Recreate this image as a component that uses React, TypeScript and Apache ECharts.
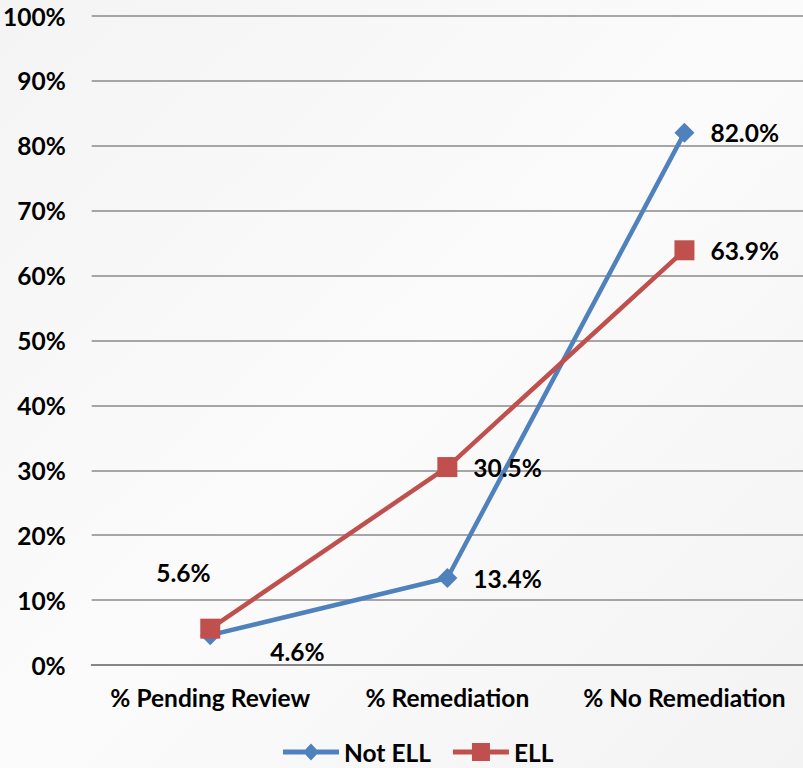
import React, { useEffect, useRef } from "react";
import * as echarts from "echarts";

const categories = ["% Pending Review", "% Remediation", "% No Remediation"];
const notEll = [4.6, 13.4, 82.0];
const ell = [5.6, 30.5, 63.9];
const yTicks = [0, 10, 20, 30, 40, 50, 60, 70, 80, 90, 100];

const FONT = "Lato, 'Open Sans', sans-serif";
const FS = 24.5;

const ICON_DIAMOND = "path://M0 8L56 8L56 13L0 13Z M28 2L36 10.5L28 19L20 10.5Z";
const ICON_SQUARE = "path://M0 8L56 8L56 13L0 13Z M19 1.5L37 1.5L37 19.5L19 19.5Z";

export default function App() {
  const ref = useRef<HTMLDivElement>(null);
  useEffect(() => {
    if (!ref.current) return;
    const chart = echarts.init(ref.current, null, { renderer: "svg" });
    const lbl = {
      show: true,
      fontFamily: FONT,
      fontWeight: "bold" as const,
      fontSize: FS,
      color: "#000",
      formatter: (p: any) => p.value.toFixed(1) + "%",
    };
    chart.setOption({
      animation: false,
      backgroundColor: {
        type: "linear",
        x: 0, y: 0, x2: 1, y2: 1,
        colorStops: [
          { offset: 0, color: "#f4f4f4" },
          { offset: 0.5, color: "#fbfbfb" },
          { offset: 1, color: "#f3f3f3" },
        ],
      },
      grid: { left: 89, top: 16, width: 717, bottom: 103, containLabel: false },
      xAxis: {
        type: "category",
        data: categories,
        boundaryGap: true,
        axisLine: { lineStyle: { color: "#868686", width: 2 } },
        axisTick: { show: false },
        axisLabel: {
          interval: 0,
          hideOverlap: false,
          margin: 20,
          fontFamily: FONT,
          fontWeight: "bold",
          fontSize: FS,
          color: "#000",
        },
      },
      yAxis: {
        type: "value",
        min: yTicks[0],
        max: yTicks[yTicks.length - 1],
        interval: 10,
        axisLine: { show: false },
        axisTick: { show: false },
        splitLine: { lineStyle: { color: "#8a8a8a", width: 1.5 } },
        axisLabel: {
          margin: 26,
          fontFamily: FONT,
          fontWeight: "bold",
          fontSize: FS,
          color: "#000",
          formatter: (v: number) => v + "%",
        },
      },
      legend: {
        bottom: 3,
        left: 283,
        padding: 0,
        itemWidth: 56,
        itemHeight: 21,
        itemGap: 22,
        textStyle: { fontFamily: FONT, fontWeight: "bold", fontSize: FS, lineHeight: 26, color: "#000" },
        data: [
          { name: "Not ELL", icon: ICON_DIAMOND },
          { name: "ELL", icon: ICON_SQUARE },
        ],
      },
      series: [
        {
          name: "Not ELL",
          type: "line",
          data: notEll,
          color: "#4F81BD",
          lineStyle: { width: 4.5, color: "#4F81BD" },
          symbol: "diamond",
          symbolSize: 20,
          itemStyle: { color: "#4F81BD" },
          z: 2,
          label: { ...lbl, position: "right", distance: 16 },
          labelLayout: (p: any) => (p.dataIndex === 0 ? { dx: 34, dy: 16 } : {}),
        },
        {
          name: "ELL",
          type: "line",
          data: ell,
          color: "#C0504D",
          lineStyle: { width: 4.5, color: "#C0504D" },
          symbol: "rect",
          symbolSize: 20,
          itemStyle: { color: "#C0504D" },
          z: 3,
          label: { ...lbl, position: "right", distance: 16 },
          labelLayout: (p: any) => (p.dataIndex === 0 ? { dx: -80, dy: -56 } : {}),
        },
      ],
    });
    return () => chart.dispose();
  }, []);
  return (
    <div
      ref={ref}
      style={{ position: "fixed", left: 0, top: 0, width: 803, height: 768 }}
    />
  );
}
